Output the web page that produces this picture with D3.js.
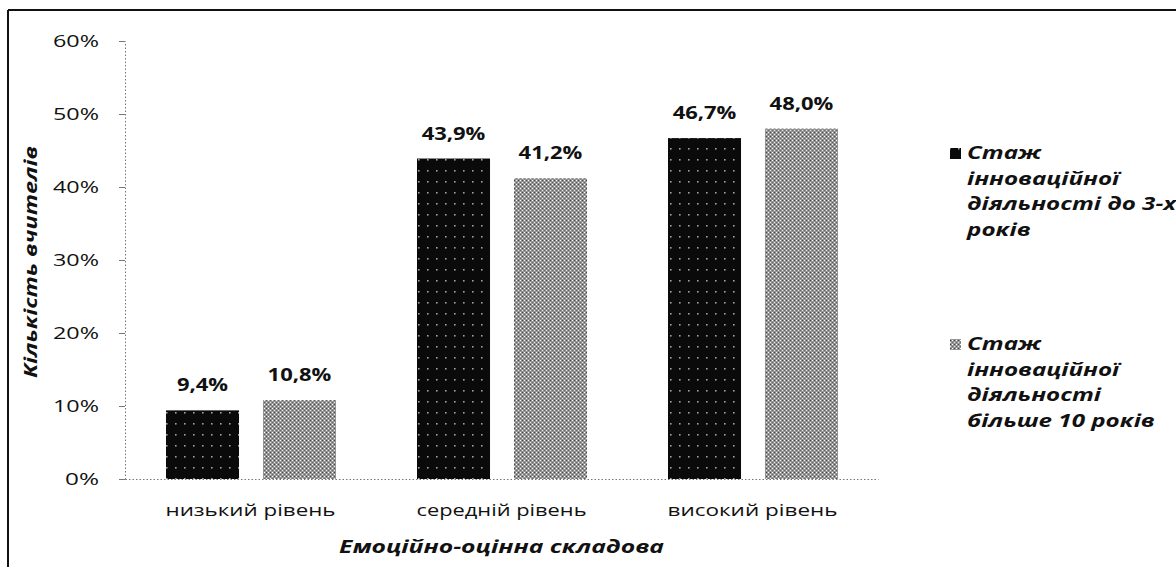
<!DOCTYPE html>
<html><head><meta charset="utf-8">
<script src="https://cdn.jsdelivr.net/npm/d3@7"></script>
<style>
body{margin:0;background:#fff;}
svg{display:block;}
text{font-family:"Open Sans","DejaVu Sans",sans-serif;fill:#111;}
</style>
</head><body>
<svg id="chart" width="1176" height="567"></svg>
<script>
// ---- data ----
const categories = ["низький рівень", "середній рівень", "високий рівень"];
const seriesKeys = ["upTo3", "over10"];
const seriesUpTo3 = [9.4, 43.9, 46.7];
const seriesOver10 = [10.8, 41.2, 48.0];
const yTickValues = [0, 10, 20, 30, 40, 50, 60];
const legendLines = [
  ["Стаж", "інноваційної", "діяльності до 3-х", "років"],
  ["Стаж", "інноваційної", "діяльності", "більше 10 років"]
];
const xTitle = "Емоційно-оцінна складова";
const yTitle = "Кількість вчителів";

// ---- layout ----
const svg = d3.select("#chart");
const plot = {left: 125, right: 878, top: 41, bottom: 479};
const x = d3.scaleBand().domain(categories).range([plot.left, plot.right]);
const xs = d3.scaleBand().domain(seriesKeys).range([41, 211]).paddingInner(0.247);
const y = d3.scaleLinear().domain([0, 60]).range([plot.bottom, plot.top]);
const fmt = v => d3.format(".1f")(v).replace(".", ",") + "%";

// patterns
const defs = svg.append("defs");
const pd = defs.append("pattern").attr("id", "pDark").attr("patternUnits", "userSpaceOnUse")
  .attr("width", 9).attr("height", 11);
pd.append("rect").attr("width", 9).attr("height", 11).attr("fill", "#0a0a0a");
pd.append("rect").attr("x", 4).attr("y", 5).attr("width", 1.6).attr("height", 1.6).attr("fill", "#a0a0a0");
const pg = defs.append("pattern").attr("id", "pGray").attr("patternUnits", "userSpaceOnUse")
  .attr("width", 4).attr("height", 4);
pg.append("rect").attr("width", 4).attr("height", 4).attr("fill", "#959595");
pg.append("rect").attr("x", 0).attr("y", 0).attr("width", 1).attr("height", 1).attr("fill", "#ffffff");
pg.append("rect").attr("x", 2).attr("y", 2).attr("width", 1).attr("height", 1).attr("fill", "#e8e8e8");
pg.append("rect").attr("x", 2).attr("y", 0).attr("width", 1).attr("height", 1).attr("fill", "#444");
pg.append("rect").attr("x", 0).attr("y", 2).attr("width", 1).attr("height", 1).attr("fill", "#666");
const fills = {upTo3: "url(#pDark)", over10: "url(#pGray)"};

// frame
svg.append("line").attr("x1", 8).attr("x2", 1176).attr("y1", 10).attr("y2", 10)
  .attr("stroke", "#111").attr("stroke-width", 2);
svg.append("line").attr("x1", 8).attr("x2", 8).attr("y1", 10).attr("y2", 567)
  .attr("stroke", "#111").attr("stroke-width", 2);

// bars
const rows = categories.map((c, i) => ({cat: c, upTo3: seriesUpTo3[i], over10: seriesOver10[i]}));
const g = svg.append("g");
rows.forEach(r => {
  seriesKeys.forEach(k => {
    const bx = x(r.cat) + xs(k);
    g.append("rect").attr("x", bx).attr("y", y(r[k]))
      .attr("width", xs.bandwidth()).attr("height", y(0) - y(r[k]))
      .attr("fill", fills[k]);
    const t = g.append("text").attr("x", bx + xs.bandwidth() / 2).attr("y", y(r[k]) - 19)
      .attr("text-anchor", "middle").attr("font-size", 18).attr("font-weight", 700)
      .text(fmt(r[k]));
    const w = t.node().getComputedTextLength();
    t.attr("textLength", w * 1.22).attr("lengthAdjust", "spacingAndGlyphs");
  });
});

// y axis
const yAxis = svg.append("g").attr("transform", `translate(${plot.left},0)`)
  .call(d3.axisLeft(y).tickValues(yTickValues).tickSize(6).tickSizeOuter(0).tickPadding(20)
    .tickFormat(d => d + "%"));
yAxis.select(".domain").attr("stroke", "#777").attr("stroke-dasharray", "1.5,2");
yAxis.selectAll(".tick line").attr("stroke", "#777");
yAxis.selectAll(".tick text").attr("font-size", 17).attr("fill", "#222")
  .attr("font-family", "Open Sans, sans-serif")
  .attr("textLength", d => d === 0 ? 34 : 46).attr("lengthAdjust", "spacingAndGlyphs");

// x axis
const xAxis = svg.append("g").attr("transform", `translate(0,${plot.bottom})`)
  .call(d3.axisBottom(x).tickSize(0).tickSizeOuter(0));
xAxis.select(".domain").attr("stroke", "#777").attr("stroke-dasharray", "1.5,2");
xAxis.selectAll(".tick text").attr("y", 37).attr("dy", 0).attr("font-size", 17).attr("fill", "#333")
  .attr("font-family", "Open Sans, sans-serif")
  .attr("textLength", 170).attr("lengthAdjust", "spacingAndGlyphs");

// axis titles
svg.append("text").attr("x", (plot.left + plot.right) / 2).attr("y", 553)
  .attr("text-anchor", "middle").attr("font-size", 18).attr("font-weight", 700).attr("font-style", "italic")
  .attr("textLength", 325).attr("lengthAdjust", "spacingAndGlyphs").text(xTitle);
svg.append("text").attr("transform", "translate(37,262) rotate(-90)")
  .attr("text-anchor", "middle").attr("font-size", 17).attr("font-weight", 700).attr("font-style", "italic")
  .attr("textLength", 232).attr("lengthAdjust", "spacingAndGlyphs").text(yTitle);

// legend
const legendTop = [159, 350];
const lineStep = 25.5;
const legendX = 967;
const legendWidest = 209;
const probe = svg.append("text").attr("font-size", 17).attr("font-weight", 700).attr("font-style", "italic")
  .text(legendLines[0][2]);
const stretch = legendWidest / probe.node().getComputedTextLength();
probe.remove();
legendLines.forEach((lines, i) => {
  svg.append("rect").attr("x", 950).attr("y", legendTop[i] - 11).attr("width", 11).attr("height", 11)
    .attr("fill", fills[seriesKeys[i]]);
  lines.forEach((t, j) => {
    const txt = svg.append("text").attr("x", legendX).attr("y", legendTop[i] + j * lineStep)
      .attr("font-size", 17).attr("font-weight", 700).attr("font-style", "italic").text(t);
    const w = txt.node().getComputedTextLength();
    txt.attr("textLength", w * stretch).attr("lengthAdjust", "spacingAndGlyphs");
  });
});
</script>
</body></html>
